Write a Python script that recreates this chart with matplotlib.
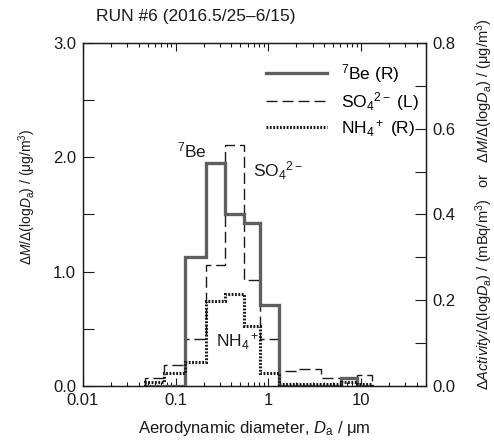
import matplotlib
matplotlib.use("Agg")
import matplotlib.pyplot as plt
from matplotlib.lines import Line2D
from matplotlib.ticker import FixedLocator, FixedFormatter, MultipleLocator, NullFormatter

plt.rcParams['font.family'] = ['Liberation Sans', 'DejaVu Sans']
plt.rcParams['mathtext.fontset'] = 'custom'
plt.rcParams['mathtext.rm'] = 'Liberation Sans'
plt.rcParams['mathtext.it'] = 'Liberation Sans:italic'
plt.rcParams['mathtext.bf'] = 'Liberation Sans:bold'

# impactor stage boundaries (um)
edges = [0.047, 0.074, 0.126, 0.21, 0.34, 0.55, 0.82, 1.3, 2.1, 3.7, 6.1, 9.1, 13.2]
# 7Be activity, right axis (mBq/m3)
be7 = [0.0, 0.0, 0.300, 0.521, 0.401, 0.381, 0.190, 0.0, 0.0, 0.0, 0.018, 0.0]
# sulfate mass, left axis (ug/m3)
so4 = [0.07, 0.184, 0.41, 1.055, 2.108, 0.93, 0.41, 0.131, 0.149, 0.067, 0.067, 0.096]
# ammonium mass, right axis (ug/m3)
nh4 = [0.010, 0.031, 0.057, 0.199, 0.214, 0.140, 0.031, 0.004, 0.004, 0.004, 0.009, 0.004]

be_col = '#5f5f5f'
ink = '#1a1a1a'
dash = (0, (8, 3.5))
dots = (0, (0.6, 0.5))

fig = plt.figure(figsize=(4.94, 4.45), dpi=100)
ax = fig.add_axes([0.168, 0.1326, 0.694, 0.7708])
axr = ax.twinx()

axr.stairs(be7, edges, baseline=0, color=be_col, lw=2.4, zorder=3)
ax.stairs(so4, edges, baseline=0, color=ink, lw=1.0, linestyle=dash, zorder=4)
axr.stairs(nh4, edges, baseline=0, color=ink, lw=2.2, linestyle=dots, zorder=4)

ax.set_xscale('log')
ax.set_xlim(0.01, 50)
ax.set_ylim(0, 3.0)
axr.set_ylim(0, 0.8)

ax.xaxis.set_major_locator(FixedLocator([0.01, 0.1, 1, 10]))
ax.xaxis.set_major_formatter(FixedFormatter(['0.01', '0.1', '1', '10']))
ax.xaxis.set_minor_formatter(NullFormatter())
ax.yaxis.set_major_locator(MultipleLocator(1.0))
ax.yaxis.set_minor_locator(MultipleLocator(0.5))
ax.yaxis.set_major_formatter(plt.FuncFormatter(lambda v, p: f'{v:.1f}'))
axr.yaxis.set_major_locator(MultipleLocator(0.2))
axr.yaxis.set_minor_locator(MultipleLocator(0.1))
axr.yaxis.set_major_formatter(plt.FuncFormatter(lambda v, p: f'{v:.1f}'))

ax.tick_params(which='both', direction='in', top=True, labelsize=12, colors=ink, pad=5)
ax.tick_params(axis='y', which='both', length=8, width=0.8)
ax.tick_params(axis='x', which='major', length=6, width=0.8)
ax.tick_params(axis='x', which='minor', length=3, width=0.8)
axr.tick_params(which='both', direction='in', labelsize=12, colors=ink, length=8, width=0.8, pad=5)
for a in (ax, axr):
    for s in a.spines.values():
        s.set_linewidth(0.9)
        s.set_color(ink)

ax.set_ylabel(r'$\Delta M/\Delta(\mathrm{log}D_\mathrm{a})$ / ($\mathrm{\mu}$g/m$^3$)',
              fontsize=10, color=ink, va='center')
ax.yaxis.set_label_coords(-0.163, 0.552)
axr.set_ylabel(r'$\Delta Activity/\Delta(\mathrm{log}D_\mathrm{a})$ / (mBq/m$^3$)   or   '
               r'$\Delta M/\Delta(\mathrm{log}D_\mathrm{a})$ / ($\mathrm{\mu}$g/m$^3$)',
               fontsize=10.5, color=ink, rotation=90, va='center')
axr.yaxis.set_label_coords(1.169, 0.53)
ax.set_xlabel(r'Aerodynamic diameter, $D_\mathrm{a}$ / $\mathrm{\mu}$m', fontsize=12,
              color=ink, labelpad=8)

fig.text(0.194, 0.963, 'RUN #6 (2016.5/25\u20136/15)', fontsize=12.5, color=ink,
         va='center', ha='left')

# curve labels
ax.text(0.215, 1.97, r'$^7$Be', fontsize=12.5, color=ink, ha='right', va='bottom')
ax.text(0.68, 1.88, r'SO$_4$$^{2-}$', fontsize=12.5, color=ink, ha='left', va='center')
ax.text(0.47, 0.39, r'NH$_4$$^+$', fontsize=12.5, color=ink, ha='center', va='center')

handles = [
    Line2D([], [], color=be_col, lw=2.4),
    Line2D([], [], color=ink, lw=1.0, linestyle=dash),
    Line2D([], [], color=ink, lw=2.2, linestyle=dots),
]
labels = [r'$^7$Be (R)', r'SO$_4$$^{2-}$ (L)', r'NH$_4$$^+$ (R)']
axr.legend(handles, labels, loc='upper right', bbox_to_anchor=(1.01, 0.975), frameon=False,
           fontsize=12.5, handlelength=3.5, handletextpad=0.8, labelspacing=0.3,
           borderaxespad=0.2)

fig.savefig('out.png', dpi=100)
